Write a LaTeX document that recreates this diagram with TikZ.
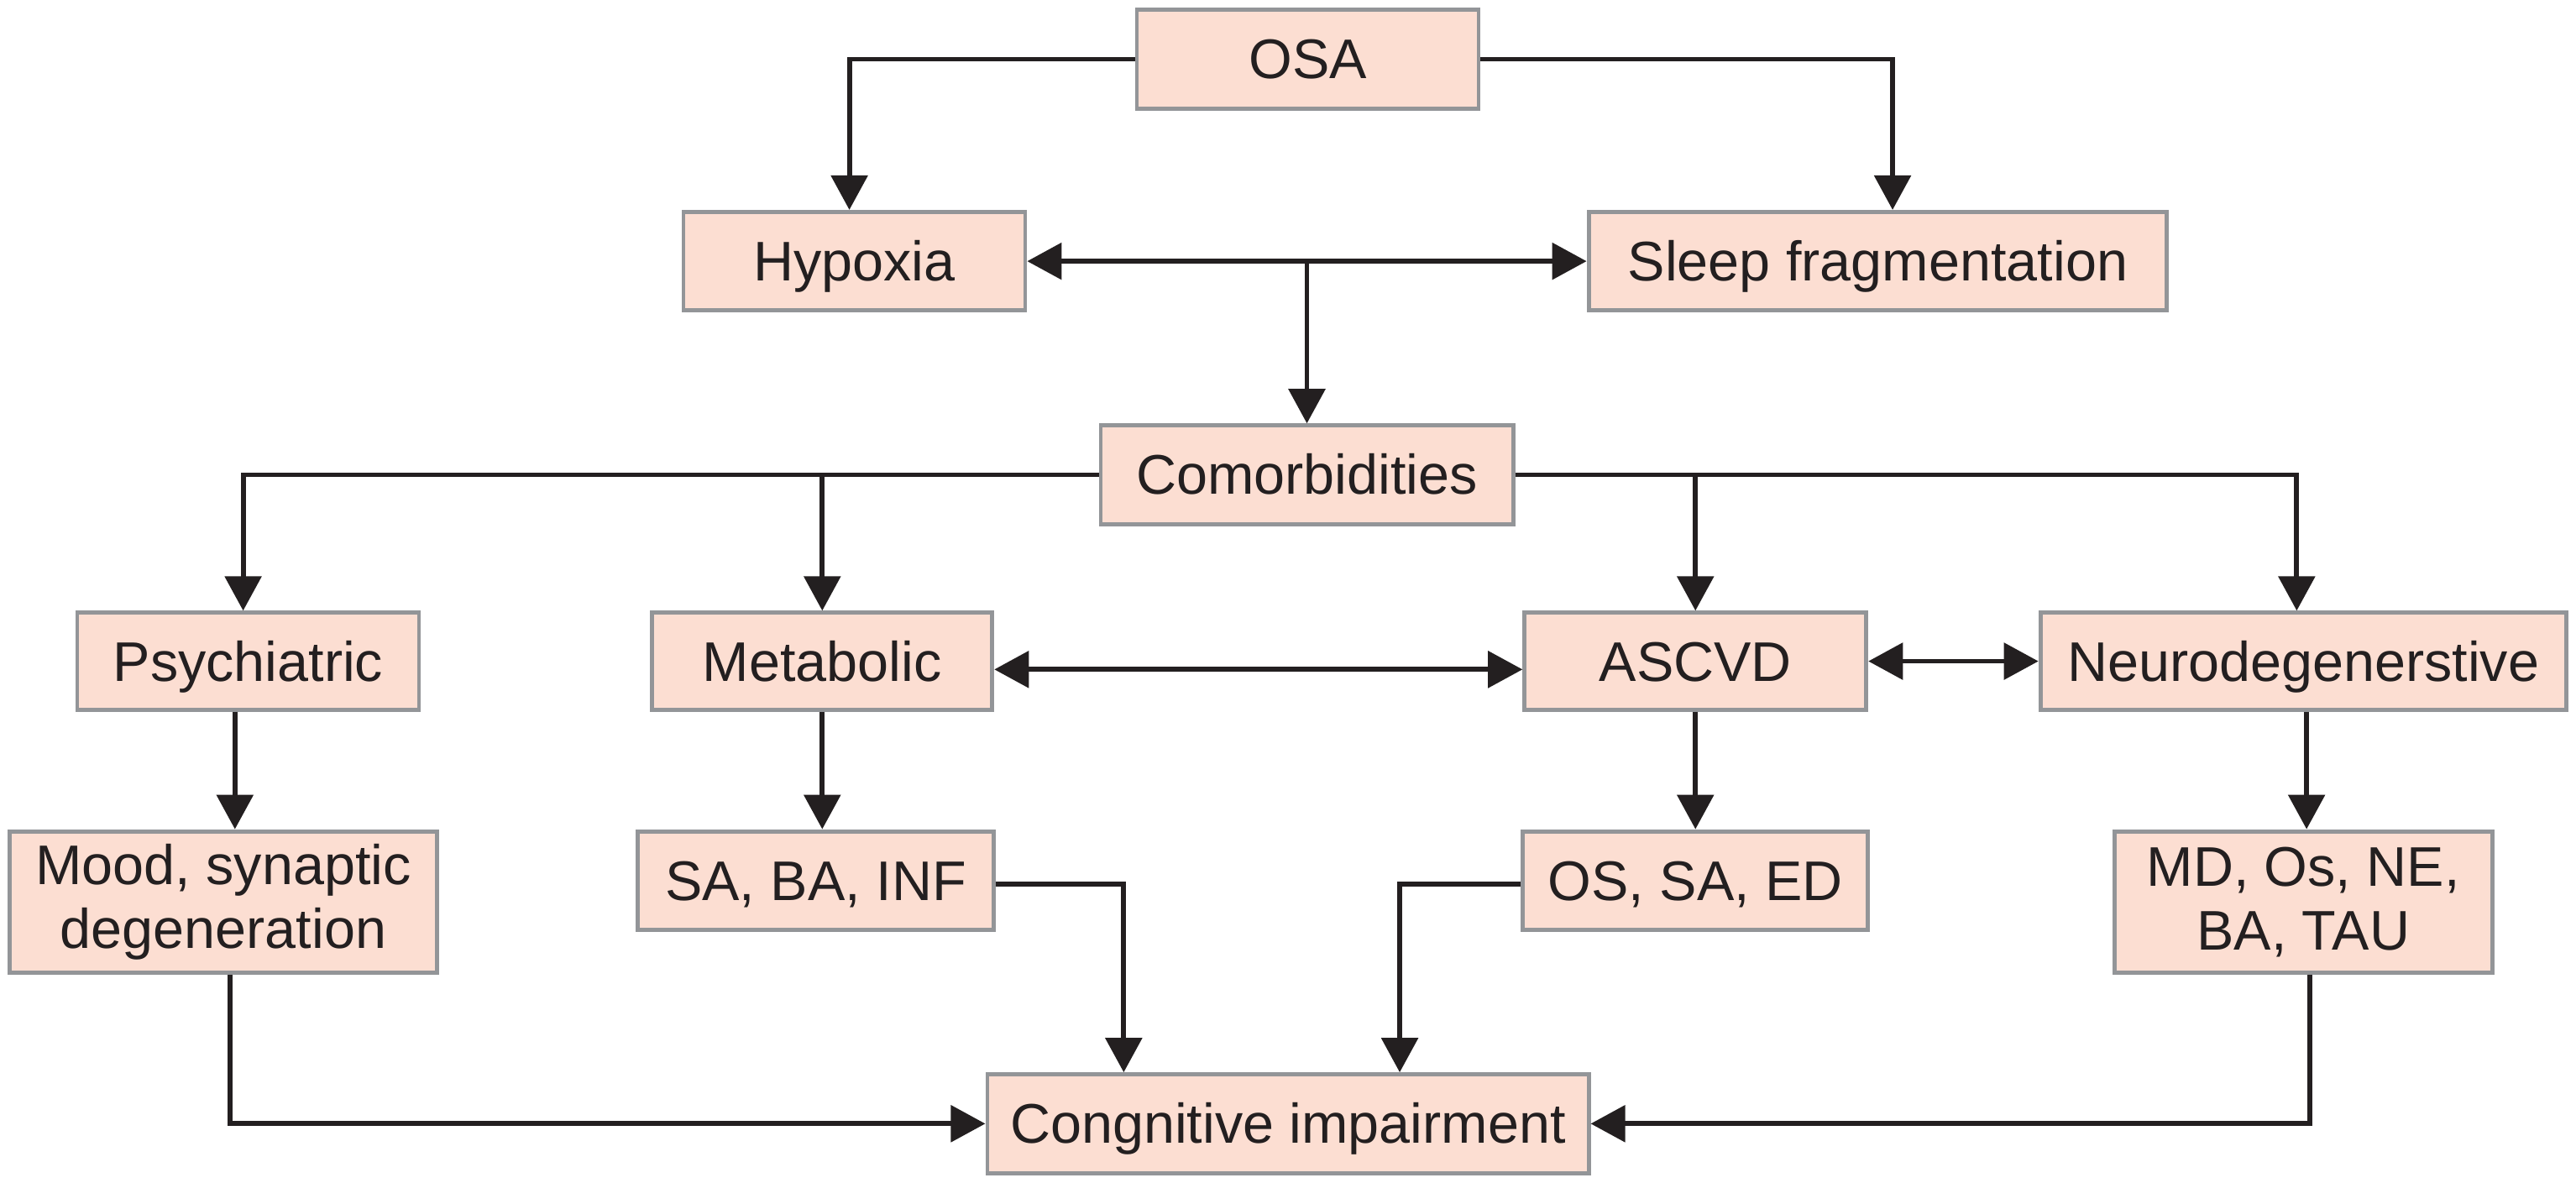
\documentclass[tikz,border=0pt]{standalone}
\usepackage{fontspec}
\setmainfont{Liberation Sans}
\usetikzlibrary{arrows.meta}
\definecolor{boxfill}{HTML}{FCDED2}
\definecolor{boxline}{HTML}{939598}
\definecolor{linecol}{HTML}{231F20}
\begin{document}
\begin{tikzpicture}[x=1pt,y=-1pt,
  box/.style={draw=boxline, line width=2.5pt, fill=boxfill, inner sep=0pt,
    font=\fontsize{34}{39}\selectfont, text=linecol, align=center},
  one/.style={text height=24pt, text depth=0pt},
  arr/.style={draw=linecol, line width=3pt, -{Triangle[length=21pt,width=22pt]}},
  darr/.style={draw=linecol, line width=3pt, {Triangle[length=21pt,width=22pt]}-{Triangle[length=21pt,width=22pt]}}]
\useasboundingbox[fill=white] (0,0) rectangle (1568,720);
% nodes
\node[box,one,minimum width=208,minimum height=60] (osa) at (796,36) {OSA};
\node[box,one,minimum width=208,minimum height=60] (hyp) at (520,159) {Hypoxia};
\node[box,one,minimum width=352,minimum height=60] (sleep) at (1143,159) {Sleep fragmentation};
\node[box,one,minimum width=251,minimum height=60] (com) at (795.5,289) {Comorbidities};
\node[box,one,minimum width=208,minimum height=59] (psy) at (151,402.5) {Psychiatric};
\node[box,one,minimum width=207,minimum height=59] (met) at (500.5,402.5) {Metabolic};
\node[box,one,minimum width=208,minimum height=59] (asc) at (1032,402.5) {ASCVD};
\node[box,one,minimum width=320,minimum height=59] (neu) at (1402,402.5) {Neurodegenerstive};
\node[box,minimum width=260,minimum height=86] (mood) at (136,549) {Mood, synaptic\\degeneration};
\node[box,one,minimum width=217,minimum height=60] (sa) at (496.5,536) {SA, BA, INF};
\node[box,one,minimum width=210,minimum height=60] (os) at (1032,536) {OS, SA, ED};
\node[box,minimum width=230,minimum height=86] (md) at (1402,549) {MD, Os, NE,\\BA, TAU};
\node[box,one,minimum width=366,minimum height=60] (cog) at (784,684) {Congnitive impairment};
% connectors
\draw[arr] (osa.west) -| ([xshift=-3pt]hyp.north);
\draw[arr] (osa.east) -| ([xshift=9pt]sleep.north);
\draw[darr] (hyp.east) -- (sleep.west);
\draw[arr] (com.north |- hyp.east) -- (com.north);
\draw[arr] (com.west) -| ([xshift=-3pt]psy.north);
\draw[arr] (met.north |- com.west) -- (met.north);
\draw[arr] (com.east) -| ([xshift=-4pt]neu.north);
\draw[arr] (asc.north |- com.east) -- (asc.north);
\draw[darr] ([yshift=-5pt]met.east) -- ([yshift=-5pt]asc.west);
\draw[darr] (asc.east) -- (neu.west);
\draw[arr] ([xshift=-8pt]psy.south) -- ([xshift=-8pt]psy.south |- mood.north);
\draw[arr] (met.south) -- (met.south |- sa.north);
\draw[arr] (asc.south) -- (os.north);
\draw[arr] ([xshift=2pt]neu.south) -- ([xshift=2pt]neu.south |- md.north);
\draw[arr] ([xshift=4pt]mood.south) |- (cog.west);
\draw[arr] ([yshift=-2pt]sa.east) -| ([xshift=-100pt]cog.north);
\draw[arr] ([yshift=-2pt]os.west) -| ([xshift=68pt]cog.north);
\draw[arr] ([xshift=4pt]md.south) |- (cog.east);
\end{tikzpicture}
\end{document}
